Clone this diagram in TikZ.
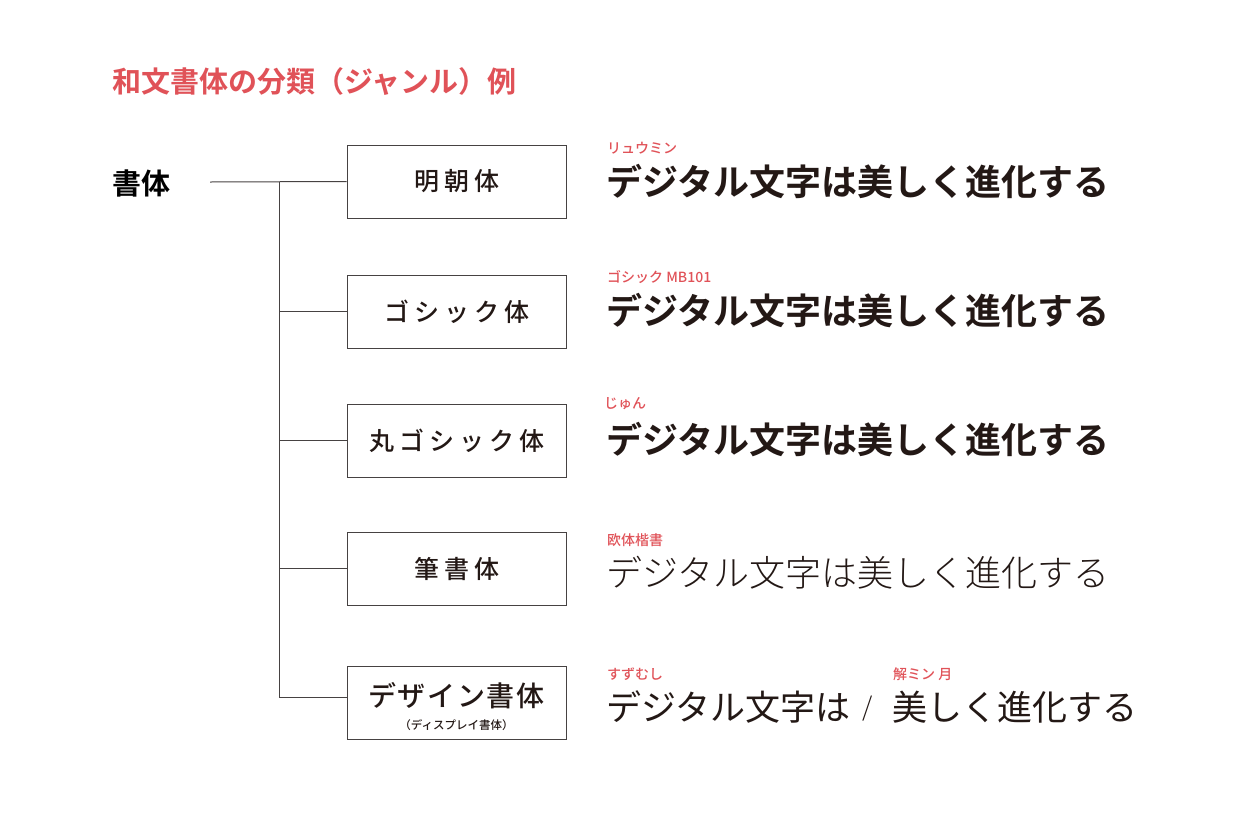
\documentclass[tikz,border=0pt]{standalone}
\usepackage{fontspec}
\newfontfamily\jp{Noto Sans CJK JP}
\newfontfamily\jpmed{Noto Sans CJK JP Medium}
\newfontfamily\jpbold{Noto Sans CJK JP Bold}
\newfontfamily\jplight{Noto Sans CJK JP Light}
\newfontfamily\jpwide[LetterSpace=20]{Noto Sans CJK JP Medium}
\newfontfamily\jpnarrow[LetterSpace=6]{Noto Sans CJK JP Medium}
\definecolor{accent}{RGB}{224,82,88}
\definecolor{ink}{RGB}{35,24,21}
\definecolor{rule}{RGB}{70,66,66}

\tikzset{
	genre/.style={draw=rule,line width=1pt,minimum width=219pt,minimum height=73pt,inner sep=0pt,text=ink,font=\jpwide\fontsize{25}{25}\selectfont},
	sample/.style={anchor=west,inner sep=0pt,text=ink,font=\jpbold\fontsize{36}{36}\selectfont},
	fontname/.style={anchor=west,inner sep=0pt,text=accent,font=\jpmed\fontsize{14}{14}\selectfont},
	branch/.style={draw=rule,line width=1pt}
}

\begin{document}
\begin{tikzpicture}[x=1pt,y=-1pt]
	\useasboundingbox (0,0) rectangle (1240,820);

	% Title
	\node[anchor=west,inner sep=0pt,text=accent,font=\jpbold\fontsize{29}{29}\selectfont] (title) at (112,82) {和文書体の分類（ジャンル）例};

	% Root
	\node[anchor=west,inner sep=0pt,text=black,font=\jpbold\fontsize{29}{29}\selectfont] (root) at (112,183) {書体};
	\coordinate (start) at (210,182);
	\coordinate (trunk) at (279,182);

	% Genre boxes
	\node[genre] (mincho) at (456.5,181.5) {明朝体};
	\node[genre] (gothic) at (456.5,311.5) {ゴシック体};
	\node[genre] (maru) at (456.5,440.5) {丸ゴシック体};
	\node[genre] (fude) at (456.5,568.5) {筆書体};
	\node[genre] (design) at (456.5,703) {};
	\node[inner sep=0pt,text=ink,align=center,font=\jpnarrow\fontsize{28}{28}\selectfont] (designtxt) at (456.5,707) {デザイン書体\\[-5pt]{\jpmed\fontsize{11.5}{11.5}\selectfont （ディスプレイ書体）}};

	% Tree
	\draw[branch] (start) -- (mincho.west);
	\draw[branch] (trunk) |- ([yshift=6pt]design.west);
	\foreach \g in {gothic,maru,fude}
		\draw[branch] (trunk) |- (\g.west);

	% Font names
	\node[fontname] (n1) at (607,148) {リュウミン};
	\node[fontname] (n2) at (607,277) {ゴシック MB101};
	\node[fontname] (n3) at (604,404) {じゅん};
	\node[fontname] (n4) at (607,540) {欧体楷書};
	\node[fontname] (n5) at (607,674) {すずむし};
	\node[fontname] (n6) at (893,674) {解ミン 月};

	% Samples
	\node[sample] (s1) at (606,182) {デジタル文字は美しく進化する};
	\node[sample] (s2) at (606,311) {デジタル文字は美しく進化する};
	\node[sample] (s3) at (606,440) {デジタル文字は美しく進化する};
	\node[sample,font=\jplight\fontsize{36}{36}\selectfont] (s4) at (606,573) {デジタル文字は美しく進化する};
	\node[sample,font=\jp\fontsize{35}{35}\selectfont] (s5a) at (606,707) {デジタル文字は};
	\node[sample,font=\jplight\fontsize{26}{26}\selectfont] (slash) at (862,709) {/};
	\node[sample,font=\jp\fontsize{35}{35}\selectfont] (s5b) at (892,707) {美しく進化する};
\end{tikzpicture}
\end{document}
